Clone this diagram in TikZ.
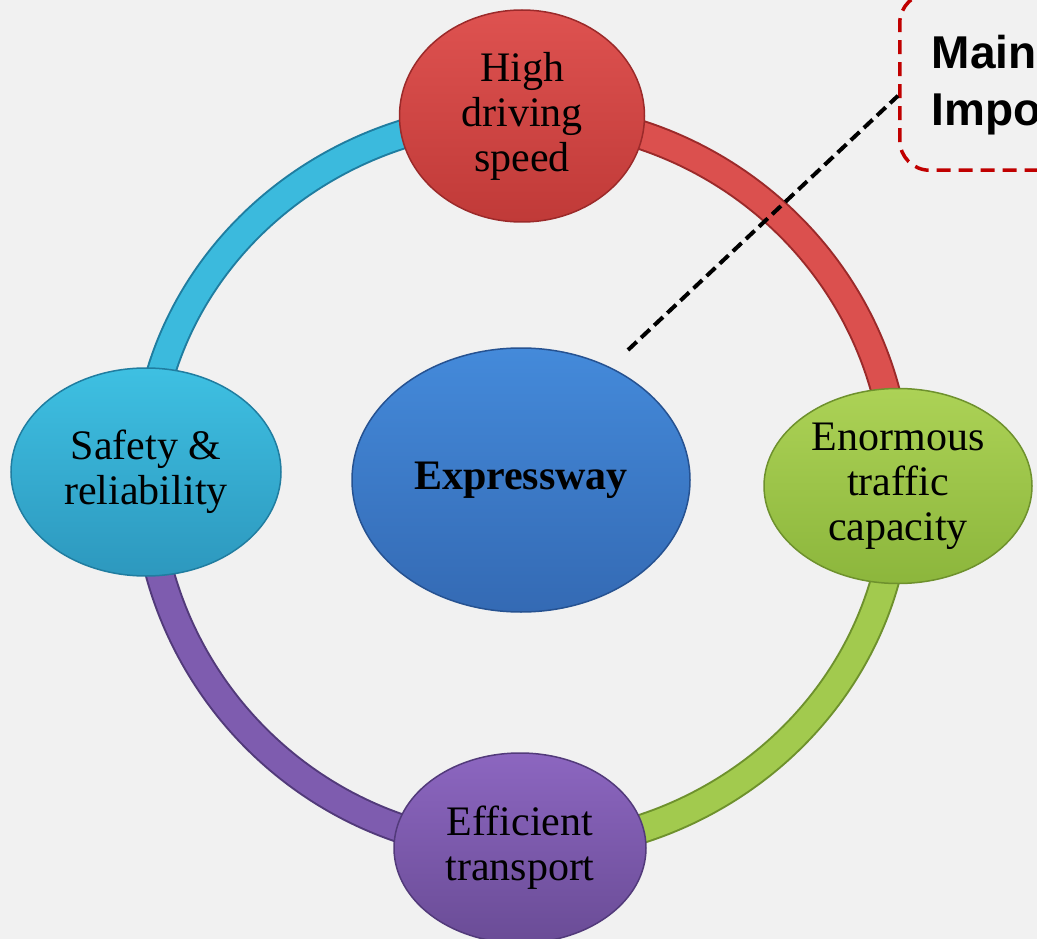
\documentclass[tikz,border=0pt]{standalone}
\usepackage{fontspec}
\setmainfont{Liberation Serif}
\newfontfamily\calloutfont{Liberation Sans}
\usetikzlibrary{%
  shapes.geometric,% ellipse
  positioning,%
  backgrounds%
}
\definecolor{bgGray}{RGB}{241,241,241}
\definecolor{redTop}{RGB}{222,82,80}
\definecolor{redBot}{RGB}{192,58,56}
\definecolor{redLine}{RGB}{155,42,42}
\definecolor{cyanTop}{RGB}{62,192,226}
\definecolor{cyanBot}{RGB}{45,152,190}
\definecolor{cyanLine}{RGB}{32,125,160}
\definecolor{blueTop}{RGB}{68,138,218}
\definecolor{blueBot}{RGB}{52,106,180}
\definecolor{blueLine}{RGB}{38,82,145}
\definecolor{greenTop}{RGB}{172,210,86}
\definecolor{greenBot}{RGB}{140,182,60}
\definecolor{greenLine}{RGB}{110,145,45}
\definecolor{purpleTop}{RGB}{140,102,192}
\definecolor{purpleBot}{RGB}{106,76,150}
\definecolor{purpleLine}{RGB}{82,58,122}
\definecolor{calloutRed}{RGB}{192,0,0}

\begin{document}
\begin{tikzpicture}
    [   x=1pt, y=-1pt
    ,   text=black
    ,   topic/.style=
            {   % The shape:
                ellipse
            ,   inner sep=0pt
            ,   % The rest
                line width=1.5pt
            ,   align=center
            ,   font=\fontsize{42}{45}\selectfont
            }
    ,   tube/.style 2 args=
            {   draw=#1
            ,   double=#2
            ,   line width=2pt
            ,   double distance=26pt
            }
    ,   callout/.style=
            {   rectangle
            ,   rounded corners=30pt
            ,   draw=calloutRed
            ,   line width=3.5pt
            ,   dash pattern=on 14pt off 8pt
            ,   align=left
            ,   text width=240pt
            ,   text height=40pt
            ,   text depth=67pt
            ,   inner xsep=32pt
            ,   inner ysep=0pt
            ,   minimum height=177pt
            ,   font=\calloutfont\bfseries\fontsize{46}{57}\selectfont
            }
    ]
    \useasboundingbox (0,0) rectangle (1037,939);
    \clip (0,0) rectangle (1037,939);

    \node[topic, minimum width=338pt, minimum height=264pt,
          top color=blueTop, bottom color=blueBot, draw=blueLine]
          (E) at (521,480) {\bfseries Expressway};
    \node[topic, minimum width=245pt, minimum height=212pt,
          top color=redTop, bottom color=redBot, draw=redLine]
          (T) at (522,116) {High\\driving\\speed};
    \node[topic, minimum width=268pt, minimum height=195pt,
          top color=greenTop, bottom color=greenBot, draw=greenLine]
          (R) at (898,486) {Enormous\\traffic\\capacity};
    \node[topic, minimum width=252pt, minimum height=190pt,
          top color=purpleTop, bottom color=purpleBot, draw=purpleLine]
          (B) at (520,848) {Efficient\\transport};
    \node[topic, minimum width=270pt, minimum height=208pt,
          top color=cyanTop, bottom color=cyanBot, draw=cyanLine]
          (L) at (146,472) {Safety \&\\reliability};

    \node[callout, anchor=south west] (M) at (898,172) {Main\\Impo};
    \coordinate (lead) at (628,350);
    \draw[line width=4pt, dash pattern=on 12pt off 6pt] (lead) -- ([yshift=-14pt]M.west);

    \begin{scope}[on background layer]
        \fill[bgGray] (0,0) rectangle (1037,939);
        \draw[tube={cyanLine}{cyanTop!85!cyanBot}] (L.center)
            arc[start angle=180, end angle=270, x radius=376, y radius=356];
        \draw[tube={redLine}{redTop!90!redBot}] (T.center)
            arc[start angle=270, end angle=360, x radius=376, y radius=370];
        \draw[tube={greenLine}{greenTop!70!greenBot}] (R.center)
            arc[start angle=0, end angle=90, x radius=378, y radius=362];
        \draw[tube={purpleLine}{purpleTop!60!purpleBot}] (B.center)
            arc[start angle=90, end angle=180, x radius=374, y radius=376];
    \end{scope}
\end{tikzpicture}
\end{document}
